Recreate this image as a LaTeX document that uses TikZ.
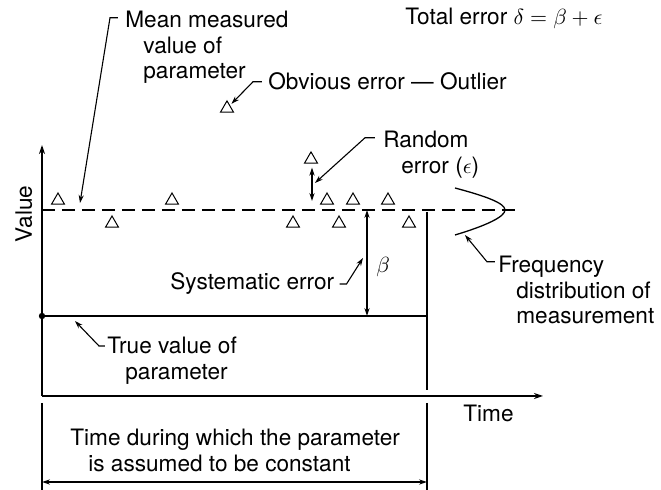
\documentclass[tikz,border=0pt]{standalone}
\usepackage{fontspec}
\setmainfont{TeX Gyre Heros}
\usepackage{tikz}
\usetikzlibrary{shapes.geometric,arrows.meta}
\newcommand{\lineind}{\hspace*{9pt}}

\begin{document}
\begin{tikzpicture}[
    x=0.5pt, y=-0.5pt,
    font=\fontsize{11.3}{12.8}\selectfont,
    axis/.style={line width=0.85pt, -{Stealth[length=4.5pt,width=3pt]}},
    lead/.style={line width=0.55pt, -{Stealth[length=4pt,width=2.6pt]}},
    twoway/.style={line width=0.6pt, {Stealth[length=4pt,width=2.6pt]}-{Stealth[length=4pt,width=2.6pt]}},
    level/.style={line width=0.65pt},
    meanline/.style={line width=0.65pt, dash pattern=on 6.5pt off 3.5pt},
    meas/.style={regular polygon, regular polygon sides=3, draw, line width=0.5pt,
                 minimum size=7.5pt, inner sep=0pt},
    lbl/.style={inner sep=0pt, align=left},
  ]
  \useasboundingbox (0,0) rectangle (661,490);

  % axes and levels
  \coordinate (origin) at (42,396);
  \coordinate (ytip) at (42,145);
  \coordinate (xtip) at (543,396);
  \coordinate (mean0) at (42,210);
  \coordinate (mean1) at (520,210);
  \coordinate (true0) at (42,316);
  \coordinate (true1) at (427,316);
  \coordinate (end0) at (427,212);
  \coordinate (end1) at (427,390);
  \draw[axis] (origin) -- (ytip);
  \draw[axis] (origin) -- (xtip);
  \draw[meanline] (mean0) -- (mean1);
  \draw[level] (true0) -- (true1);
  \draw[level] (end0) -- (end1);
  \fill (true0) circle (1.6pt);

  % constant period
  \coordinate (br0) at (42,403);
  \coordinate (br0b) at (42,492);
  \coordinate (br1) at (427,403);
  \coordinate (br1b) at (427,492);
  \coordinate (span0) at (42,482);
  \coordinate (span1) at (427,482);
  \draw[level] (br0) -- (br0b);
  \draw[level] (br1) -- (br1b);
  \draw[twoway] (span0) -- (span1);

  % measurements
  \foreach \n/\x/\y in {1/58/200.5, 2/112/223.5, 3/172/200.5, 4/293/223.5,
                        5/327/200.5, 6/339/223.5, 7/353/200.5, 8/388/200.5, 9/409/223.5}
    \node[meas] (t\n) at (\x,\y) {};
  \node[meas] (outlier) at (227,108.4) {};
  \node[meas] (rtop) at (311,159.4) {};

  % frequency distribution
  \coordinate (fc0) at (455,188);
  \coordinate (fc1) at (505,210);
  \coordinate (fc2) at (455,235);
  \draw[level] (fc0) .. controls (485,196) and (505,203) .. (fc1)
                     .. controls (505,217) and (485,226) .. (fc2);

  % error arrows
  \coordinate (beta0) at (367,210);
  \coordinate (beta1) at (367,316);
  \coordinate (rbot) at (312,201);
  \draw[twoway] (beta0) -- (beta1);
  \draw[twoway] ([shift={(1,4)}]rtop.south) -- (rbot);

  % labels
  \node[lbl, anchor=base west] (total) at (405,25) {Total error $\delta = \beta + \epsilon$};
  \node[lbl, anchor=north west] (mean) at (125,10.8) {Mean measured\\\lineind value of\\\lineind parameter};
  \node[lbl, anchor=base west] (obvious) at (268,90) {Obvious error --- Outlier};
  \node[lbl, anchor=north west] (random) at (383,130.8) {Random\\\lineind error ($\epsilon$)};
  \node[lbl, anchor=north west] (freq) at (498,255.8) {Frequency\\\lineind distribution of\\\lineind measurement};
  \node[lbl, anchor=base west] (sys) at (170,290) {Systematic error};
  \node[lbl, anchor=base west] (beta) at (376,273) {$\beta$};
  \node[lbl, anchor=north west] (truev) at (107,336.5) {True value of\\\lineind parameter};
  \node[lbl, anchor=base west] (time) at (463,422) {Time};
  \node[lbl, anchor=north west] (span) at (70,428.8) {Time during which the parameter\\\lineind is assumed to be constant};
  \node[lbl, rotate=90, anchor=base] (value) at (32,214) {Value};

  % leaders
  \coordinate (meantip) at (80,203);
  \coordinate (rtip) at (315,183);
  \coordinate (ftip) at (465,235);
  \coordinate (btip) at (363,258);
  \coordinate (ttip) at (75,321);
  \draw[lead] ([shift={(-7,7)}]mean.north west) -- ++(-8,0) -- (meantip);
  \draw[lead, shorten >=1pt] ([shift={(-6,0)}]obvious.west) -- ++(-9,0) -- (outlier);
  \draw[lead] ([shift={(-8,7)}]random.north west) -- ++(-10,0) -- (rtip);
  \draw[lead] ([shift={(-3,6)}]freq.north west) -- ++(-8,0) -- (ftip);
  \draw[lead] ([shift={(5,0)}]sys.east) -- ++(7,0) -- (btip);
  \draw[lead] ([shift={(-2,9.5)}]truev.north west) -- ++(-6,0) -- (ttip);
\end{tikzpicture}
\end{document}
